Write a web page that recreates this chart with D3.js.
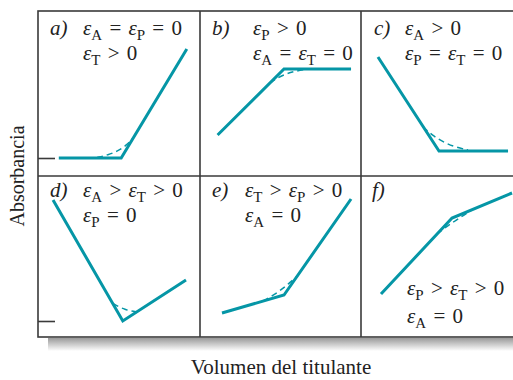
<!DOCTYPE html>
<html>
<head>
<meta charset="utf-8">
<script src="https://d3js.org/d3.v7.min.js"></script>
<style>
  body { margin: 0; background: #fff; }
  text { font-family: "Liberation Serif", "DejaVu Serif", serif; fill: #222; }
</style>
</head>
<body>
<script>
// panel labels and the absorptivity conditions written in each panel
const panelLabels = ["a)", "b)", "c)", "d)", "e)", "f)"];
const conditions = [
  ["ε_A = ε_P = 0", "ε_T > 0"],
  ["ε_P > 0", "ε_A = ε_T = 0"],
  ["ε_A > 0", "ε_P = ε_T = 0"],
  ["ε_A > ε_T > 0", "ε_P = 0"],
  ["ε_T > ε_P > 0", "ε_A = 0"],
  ["ε_P > ε_T > 0", "ε_A = 0"]
];

// idealised titration curves (straight segments), volume 0..1, absorbance 0 at the tick
const solidVol = [
  [0.13, 0.52, 0.93],
  [0.11, 0.525, 0.944],
  [0.106, 0.4875, 0.919],
  [0.094, 0.53, 0.925],
  [0.1375, 0.525, 0.944],
  [0.125, 0.569, 0.944]
];
const solidAbs = [
  [0, 0, 1.09],
  [0.23, 0.89, 0.89],
  [1.01, 0.07, 0.07],
  [1.21, 0, 0.41],
  [0.08, 0.26, 1.22],
  [0.27, 1.03, 1.28]
];

// measured (rounded) curves near the end point, dashed
const dashVol = [
  [0.369, 0.4375, 0.5, 0.556, 0.6],
  [0.4375, 0.4875, 0.544, 0.6, 0.656],
  [0.3875, 0.444, 0.5125, 0.5875, 0.669],
  [0.469, 0.506, 0.544, 0.581, 0.619],
  [0.394, 0.45, 0.506, 0.556, 0.606],
  [0.475, 0.531, 0.5875, 0.644, 0.7]
];
const dashAbs = [
  [0.005, 0.03, 0.07, 0.13, 0.21],
  [0.75, 0.805, 0.845, 0.87, 0.885],
  [0.31, 0.23, 0.16, 0.11, 0.08],
  [0.175, 0.14, 0.115, 0.1, 0.092],
  [0.20, 0.25, 0.31, 0.375, 0.446],
  [0.87, 0.94, 1.0, 1.06, 1.118]
];

const xTitle = "Volumen del titulante";
const yTitle = "Absorbancia";

const width = 513, height = 380;
const teal = "#0596a6", frame = "#3a3a3a";

const colLeft = [38, 200, 361];
const colWidth = 160;
const rowTop = [11, 176];
const rowZero = [158, 321];   // y pixel of zero absorbance in each row
const boxBottom = 337, boxRight = 530;

const svg = d3.select("body").append("svg")
  .attr("width", width)
  .attr("height", height);

// shadow under the frame
const grad = svg.append("defs").append("linearGradient")
  .attr("id", "shadow").attr("x1", 0).attr("y1", 0).attr("x2", 0).attr("y2", 1);
grad.append("stop").attr("offset", "0%").attr("stop-color", "#9a9a9a");
grad.append("stop").attr("offset", "100%").attr("stop-color", "#ffffff");
svg.append("rect")
  .attr("x", 48).attr("y", boxBottom + 1)
  .attr("width", boxRight - 48).attr("height", 13)
  .attr("fill", "url(#shadow)");

svg.append("rect")
  .attr("x", colLeft[0]).attr("y", rowTop[0])
  .attr("width", boxRight - colLeft[0]).attr("height", boxBottom - rowTop[0])
  .attr("fill", "#fff").attr("stroke", frame).attr("stroke-width", 1.6);

// grid dividers
[colLeft[1], colLeft[2]].forEach(x => {
  svg.append("line").attr("x1", x).attr("x2", x)
    .attr("y1", rowTop[0]).attr("y2", boxBottom)
    .attr("stroke", frame).attr("stroke-width", 1.6);
});
svg.append("line").attr("x1", colLeft[0]).attr("x2", boxRight)
  .attr("y1", rowTop[1]).attr("y2", rowTop[1])
  .attr("stroke", frame).attr("stroke-width", 1.6);

// zero-absorbance tick on each row
rowZero.forEach(z => {
  const y = d3.scaleLinear().domain([0, 1]).range([z, z - 100]);
  const ax = svg.append("g")
    .attr("transform", `translate(${colLeft[0]},0)`)
    .call(d3.axisLeft(y).tickValues([0]).tickSize(-17).tickFormat(""));
  ax.select(".domain").remove();
  ax.selectAll(".tick line").attr("stroke", frame).attr("stroke-width", 1.6);
});

// writes "ε_A = ..." with subscripts, epsilon in italic
function richText(sel, str) {
  const parts = str.split(/(ε|_\w)/).filter(p => p.length);
  let lowered = false;
  parts.forEach(p => {
    if (p[0] === "_") {
      sel.append("tspan").attr("font-size", 15).attr("dy", 5).text(p.slice(1));
      lowered = true;
    } else {
      const t = sel.append("tspan").attr("dy", lowered ? -5 : 0).text(p);
      if (p === "ε") t.attr("font-style", "italic");
      lowered = false;
    }
  });
}

// where the label and the condition lines sit within each panel
const labelPos = [
  { lx: 12, ly: 24, cx: 45, cy: [24, 49] },
  { lx: 12, ly: 24, cx: 53, cy: [24, 49] },
  { lx: 13, ly: 24, cx: 44, cy: [24, 49] },
  { lx: 12, ly: 21, cx: 45, cy: [21, 46] },
  { lx: 12, ly: 21, cx: 45, cy: [21, 46] },
  { lx: 11, ly: 21, cx: 46, cy: [119, 147] }
];

const line = d3.line().curve(d3.curveLinear);
const smooth = d3.line().curve(d3.curveBasis);

panelLabels.forEach((lab, i) => {
  const c = i % 3, r = Math.floor(i / 3);
  const x = d3.scaleLinear().domain([0, 1]).range([colLeft[c], colLeft[c] + colWidth]);
  const y = d3.scaleLinear().domain([0, 1]).range([rowZero[r], rowZero[r] - 100]);
  const g = svg.append("g");

  g.append("path")
    .attr("d", smooth(dashVol[i].map((v, k) => [x(v), y(dashAbs[i][k])])))
    .attr("fill", "none").attr("stroke", teal).attr("stroke-width", 1.5)
    .attr("stroke-dasharray", "6,4");

  g.append("path")
    .attr("d", line(solidVol[i].map((v, k) => [x(v), y(solidAbs[i][k])])))
    .attr("fill", "none").attr("stroke", teal).attr("stroke-width", 3)
    .attr("stroke-linejoin", "miter");

  const pos = labelPos[i];
  const top = rowTop[r];
  g.append("text")
    .attr("x", colLeft[c] + pos.lx).attr("y", top + pos.ly)
    .attr("font-size", 21).attr("font-style", "italic")
    .text(lab);
  conditions[i].forEach((s, k) => {
    const t = g.append("text")
      .attr("x", colLeft[c] + pos.cx).attr("y", top + pos.cy[k])
      .attr("font-size", 21).attr("word-spacing", 2)
      .style("white-space", "pre");
    richText(t, s);
  });
});

svg.append("text")
  .attr("x", 281).attr("y", 374)
  .attr("text-anchor", "middle").attr("font-size", 21)
  .text(xTitle);

svg.append("text")
  .attr("transform", "translate(24,176) rotate(-90)")
  .attr("text-anchor", "middle").attr("font-size", 20)
  .text(yTitle);
</script>
</body>
</html>
